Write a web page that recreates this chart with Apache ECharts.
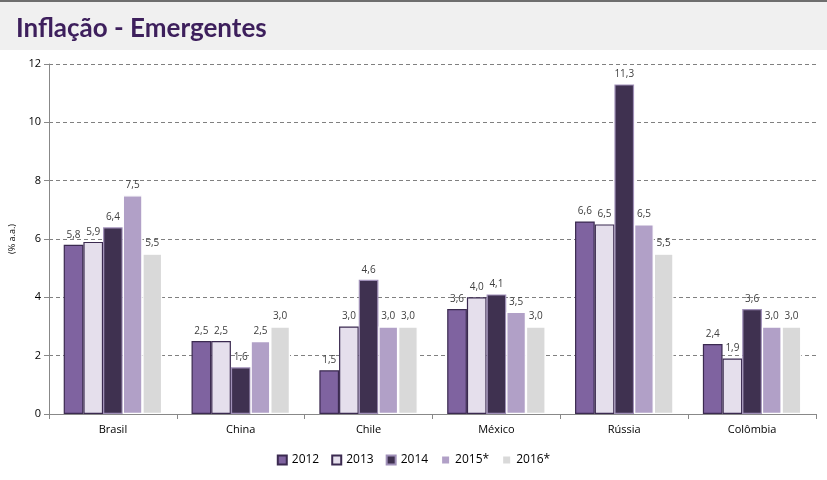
<!DOCTYPE html>
<html><head><meta charset="utf-8">
<script src="https://cdn.jsdelivr.net/npm/echarts@6/dist/echarts.min.js"></script>
<style>html,body{margin:0;padding:0;background:#fff}#c{width:827px;height:480px}</style>
</head><body><div id="c"></div>
<script>
const categories = ['Brasil','China','Chile','México','Rússia','Colômbia'];
const s2012 = [5.8, 2.5, 1.5, 3.6, 6.6, 2.4];
const s2013 = [5.9, 2.5, 3.0, 4.0, 6.5, 1.9];
const s2014 = [6.4, 1.6, 4.6, 4.1, 11.3, 3.6];
const s2015 = [7.5, 2.5, 3.0, 3.5, 6.5, 3.0];
const s2016 = [5.5, 3.0, 3.0, 3.0, 5.5, 3.0];
const seriesNames = ['2012','2013','2014','2015*','2016*'];
const yTicks = [0,2,4,6,8,10,12];

const styles = [
  {color:'#7f63a0', borderColor:'#3b2a50'},
  {color:'#e5dfec', borderColor:'#3b2a50'},
  {color:'#3f3150', borderColor:'#a090b8'},
  {color:'#b1a0c7', borderColor:'#ffffff'},
  {color:'#d9d9d9', borderColor:'#ffffff'}
];
const data = [s2012,s2013,s2014,s2015,s2016];
const chart = echarts.init(document.getElementById('c'));
chart.setOption({
  animation:false,
  backgroundColor:'#fff',
  graphic:[
    {type:'rect', shape:{x:0,y:0,width:827,height:50}, style:{fill:'#f0f0f0'}, z:-1},
    {type:'rect', shape:{x:0,y:0,width:827,height:2}, style:{fill:'#6e6e6e'}},
    {type:'text', left:16, top:16, style:{text:'Inflação - Emergentes', font:'bold 26px Lato, "Open Sans", sans-serif', fill:'#3d1f5c'}}
  ],
  grid:{left:48, right:11, top:64, bottom:66},
  legend:{
    bottom:9, left:'center', itemWidth:9, itemHeight:9, itemGap:12, icon:'rect',
    textStyle:{fontSize:12, color:'#000', fontFamily:'"Open Sans", sans-serif'},
    data: seriesNames
  },
  xAxis:{
    type:'category', data:categories,
    axisLine:{lineStyle:{color:'#888'}},
    axisTick:{show:true, length:5, lineStyle:{color:'#888'}},
    axisLabel:{fontSize:11, color:'#000', margin:10, fontFamily:'"Open Sans", sans-serif'}
  },
  yAxis:{
    type:'value', min:yTicks[0], max:yTicks[yTicks.length-1], interval:2,
    name:'(% a.a.)', nameLocation:'middle', nameGap:32, nameRotate:90,
    nameTextStyle:{fontSize:9, color:'#000', fontFamily:'"Open Sans", sans-serif'},
    axisLine:{show:true, lineStyle:{color:'#888'}},
    axisTick:{show:true, length:5, inside:false, lineStyle:{color:'#888'}},
    axisLabel:{fontSize:11, color:'#000', margin:8, fontFamily:'"Open Sans", sans-serif'},
    splitLine:{lineStyle:{color:'#808080', type:[4,3]}}
  },
  series: seriesNames.map((n,i)=>({
    name:n, type:'bar', data:data[i], barGap:'0%', barCategoryGap:'23%',
    itemStyle:{color:styles[i].color, borderColor:styles[i].borderColor, borderWidth:1.2},
    label:{show:true, position:'top', distance:5, fontSize:10, color:'#404040',
      fontFamily:'"Open Sans", sans-serif',
      formatter:p=>p.value.toFixed(1).replace('.',',')}
  }))
});
</script></body></html>
